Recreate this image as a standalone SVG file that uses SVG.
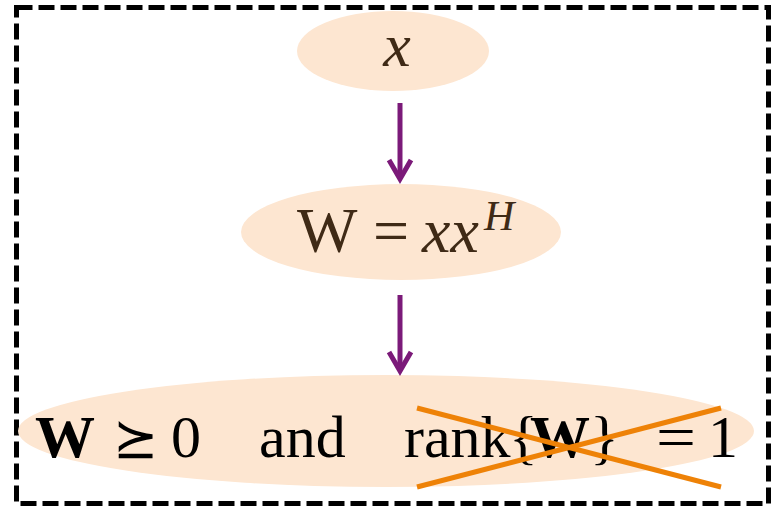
<svg xmlns="http://www.w3.org/2000/svg" width="775" height="506" viewBox="0 0 775 506">
<defs>
<style>
.node{fill:#fde6d1;stroke:none}
.lbl{font-family:"Liberation Serif","DejaVu Serif",serif;fill:#3f2a16}
.math{font-family:"Liberation Serif","DejaVu Serif",serif;fill:#000;font-size:60px}
.rel{font-family:"DejaVu Sans","DejaVu Serif",sans-serif;font-size:54px;font-weight:200}
.conn{stroke:#7b1a79;stroke-width:5;fill:none}
.head{stroke:#7b1a79;stroke-width:5;fill:none;stroke-linejoin:miter;stroke-miterlimit:10}
.cross{stroke:#ee8207;stroke-width:5;stroke-linecap:butt}
</style>
</defs>
<rect x="16.5" y="7.5" width="752" height="496" fill="none" stroke="#000" stroke-width="5" stroke-dasharray="16,6"/>
<g id="node-x">
<ellipse class="node" cx="393" cy="51" rx="96" ry="40"/>
<text class="lbl" x="397" y="66" font-size="62" font-style="italic" text-anchor="middle">x</text>
</g>
<g id="node-W">
<ellipse class="node" cx="401" cy="232" rx="160" ry="48"/>
<text class="lbl" x="297" y="252" font-size="64"><tspan>W</tspan><tspan x="373">=</tspan><tspan x="422" font-style="italic">xx</tspan><tspan x="484" dy="-22" font-size="42" font-style="italic">H</tspan></text>
</g>
<g id="node-constraints">
<ellipse class="node" cx="386" cy="431" rx="368" ry="56"/>
<text class="math" y="459"><tspan x="35" y="457" font-weight="bold">W</tspan><tspan x="113" class="rel">⪰</tspan><tspan x="171" y="457">0</tspan><tspan x="259">and</tspan><tspan x="404">rank</tspan><tspan x="509">{</tspan><tspan x="530" font-weight="bold">W</tspan><tspan x="590">}</tspan><tspan x="656" textLength="40" lengthAdjust="spacingAndGlyphs">=</tspan><tspan x="708">1</tspan></text>
<line class="cross" x1="417" y1="408" x2="721" y2="487"/>
<line class="cross" x1="417" y1="487" x2="721" y2="408"/>
</g>
<g id="connectors">
<path class="conn" d="M400,103 V178"/>
<path class="head" d="M389,160 L400,179 L411,160"/>
<path class="conn" d="M400,295 V370"/>
<path class="head" d="M389,352 L400,371 L411,352"/>
</g>
</svg>
